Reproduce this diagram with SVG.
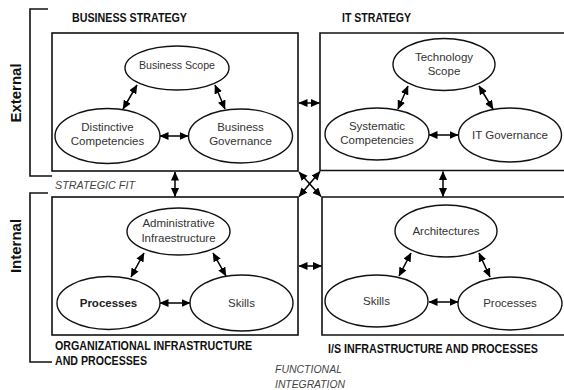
<svg xmlns="http://www.w3.org/2000/svg" width="564" height="390" viewBox="0 0 564 390">
  <defs>
    <marker id="ah" markerUnits="userSpaceOnUse" markerWidth="9" markerHeight="8" refX="8.5" refY="4" orient="auto-start-reverse">
      <path d="M0,0 L9,4 L0,8 Z" fill="#000"/>
    </marker>
    <style>
      .box { fill: none; stroke: #111; stroke-width: 1.6; }
      .brk { fill: none; stroke: #111; stroke-width: 1.6; }
      .ell { fill: #fff; stroke: #111; stroke-width: 1.4; }
      .arr { stroke: #000; stroke-width: 1.5; fill: none; marker-start: url(#ah); marker-end: url(#ah); }
      .lbl { font-family: "Liberation Sans", Arial, sans-serif; font-size: 11.5px; fill: #333; text-anchor: middle; }
      .lblb { font-family: "Liberation Sans", Arial, sans-serif; font-size: 11.5px; fill: #222; font-weight: bold; text-anchor: middle; }
      .hd { font-family: "Liberation Sans", Arial, sans-serif; font-size: 12px; font-weight: bold; fill: #111; }
      .it { font-family: "Liberation Sans", Arial, sans-serif; font-size: 11.5px; font-style: italic; fill: #444; }
      .side { font-family: "Liberation Sans", Arial, sans-serif; font-size: 15px; font-weight: bold; fill: #111; text-anchor: middle; }
    </style>
  </defs>

  <!-- dimension brackets -->
  <g id="brackets">
    <path class="brk" d="M48,9 H30 V176 H52"/>
    <path class="brk" d="M48,193 H30 V362 H52"/>
    <text class="side" transform="translate(21,93) rotate(-90)">External</text>
    <text class="side" transform="translate(21,246) rotate(-90)">Internal</text>
  </g>

  <!-- domain frames -->
  <g id="frames">
    <rect class="box" x="52" y="33" width="246" height="138"/>
    <path class="box" d="M566,33 H320 V170.5 H566"/>
    <rect class="box" x="52" y="197" width="246" height="138"/>
    <path class="box" d="M566,197 H322 V335 H566"/>
  </g>

  <!-- headings and axis captions -->
  <g id="captions">
    <text class="hd" x="72" y="22" textLength="115" lengthAdjust="spacingAndGlyphs">BUSINESS STRATEGY</text>
    <text class="hd" x="342" y="22" textLength="69" lengthAdjust="spacingAndGlyphs">IT STRATEGY</text>
    <text class="it" x="55" y="189" textLength="80" lengthAdjust="spacingAndGlyphs">STRATEGIC FIT</text>
    <text class="hd" x="55" y="350" textLength="197" lengthAdjust="spacingAndGlyphs">ORGANIZATIONAL INFRASTRUCTURE</text>
    <text class="hd" x="55" y="365" textLength="92" lengthAdjust="spacingAndGlyphs">AND PROCESSES</text>
    <text class="hd" x="328" y="353" textLength="210" lengthAdjust="spacingAndGlyphs">I/S INFRASTRUCTURE AND PROCESSES</text>
    <text class="it" x="275" y="373" textLength="67" lengthAdjust="spacingAndGlyphs">FUNCTIONAL</text>
    <text class="it" x="275" y="388" textLength="70" lengthAdjust="spacingAndGlyphs">INTEGRATION</text>
  </g>

  <!-- connectors -->
  <g id="connectors">
    <!-- business strategy -->
    <line class="arr" x1="137" y1="85" x2="123" y2="109"/>
    <line class="arr" x1="215" y1="85" x2="225" y2="109"/>
    <line class="arr" x1="160" y1="136" x2="188" y2="136"/>
    <!-- IT strategy -->
    <line class="arr" x1="408" y1="86" x2="398" y2="109"/>
    <line class="arr" x1="479" y1="86" x2="493" y2="109"/>
    <line class="arr" x1="429" y1="135" x2="458" y2="135"/>
    <!-- organizational infrastructure -->
    <line class="arr" x1="144" y1="253" x2="131" y2="277"/>
    <line class="arr" x1="213" y1="253" x2="226" y2="276"/>
    <line class="arr" x1="160" y1="303" x2="190" y2="303"/>
    <!-- I/S infrastructure -->
    <line class="arr" x1="411" y1="253" x2="399" y2="276"/>
    <line class="arr" x1="479" y1="253" x2="490" y2="277"/>
    <line class="arr" x1="429" y1="302" x2="458" y2="302"/>
    <!-- between domains -->
    <line class="arr" x1="175" y1="172" x2="175" y2="196.5"/>
    <line class="arr" x1="443" y1="171.5" x2="443" y2="196.5"/>
    <line class="arr" x1="299" y1="103" x2="319.5" y2="103"/>
    <line class="arr" x1="299" y1="266" x2="321.5" y2="266"/>
    <line class="arr" x1="299" y1="172" x2="321" y2="196.5"/>
    <line class="arr" x1="320" y1="171.5" x2="299" y2="196.5"/>
  </g>

  <!-- business strategy nodes -->
  <g id="business-scope">
    <ellipse class="ell" cx="177" cy="68" rx="52" ry="22"/>
    <text class="lbl" x="177" y="69" textLength="76" lengthAdjust="spacingAndGlyphs">Business Scope</text>
  </g>
  <g id="distinctive-competencies">
    <ellipse class="ell" cx="107.5" cy="136" rx="52.5" ry="27.5"/>
    <text class="lbl" x="107.5" y="131">Distinctive</text>
    <text class="lbl" x="107.5" y="145">Competencies</text>
  </g>
  <g id="business-governance">
    <ellipse class="ell" cx="240.5" cy="136" rx="52" ry="27"/>
    <text class="lbl" x="240.5" y="131">Business</text>
    <text class="lbl" x="240.5" y="145">Governance</text>
  </g>

  <!-- IT strategy nodes -->
  <g id="technology-scope">
    <ellipse class="ell" cx="444" cy="64.5" rx="51" ry="26"/>
    <text class="lbl" x="444" y="61">Technology</text>
    <text class="lbl" x="444" y="75">Scope</text>
  </g>
  <g id="systematic-competencies">
    <ellipse class="ell" cx="377" cy="134" rx="52" ry="26"/>
    <text class="lbl" x="377" y="130">Systematic</text>
    <text class="lbl" x="377" y="144">Competencies</text>
  </g>
  <g id="it-governance">
    <ellipse class="ell" cx="510" cy="135" rx="51.5" ry="27"/>
    <text class="lbl" x="510" y="139">IT Governance</text>
  </g>

  <!-- organizational infrastructure nodes -->
  <g id="administrative-infrastructure">
    <ellipse class="ell" cx="178.5" cy="231.5" rx="51.5" ry="23.5"/>
    <text class="lbl" x="178.5" y="227">Administrative</text>
    <text class="lbl" x="178.5" y="242">Infraestructure</text>
  </g>
  <g id="org-processes">
    <ellipse class="ell" cx="108.5" cy="303" rx="51.5" ry="26.5"/>
    <text class="lblb" x="108.5" y="307">Processes</text>
  </g>
  <g id="org-skills">
    <ellipse class="ell" cx="241.5" cy="303" rx="51.5" ry="28"/>
    <text class="lbl" x="241.5" y="307">Skills</text>
  </g>

  <!-- I/S infrastructure nodes -->
  <g id="architectures">
    <ellipse class="ell" cx="446" cy="231" rx="51" ry="26"/>
    <text class="lbl" x="446" y="235">Architectures</text>
  </g>
  <g id="is-skills">
    <ellipse class="ell" cx="376.5" cy="301" rx="51.5" ry="26"/>
    <text class="lbl" x="376.5" y="305">Skills</text>
  </g>
  <g id="is-processes">
    <ellipse class="ell" cx="510" cy="303.5" rx="52" ry="26.5"/>
    <text class="lbl" x="510" y="307">Processes</text>
  </g>
</svg>
